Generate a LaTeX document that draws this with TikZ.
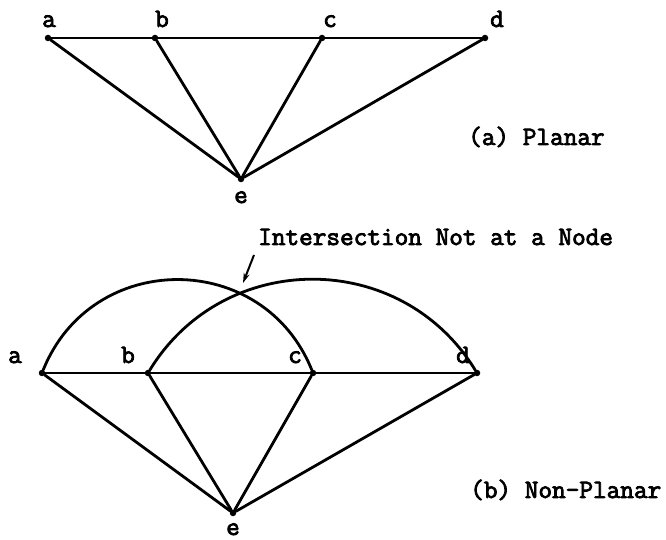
\documentclass[tikz,border=0pt]{standalone}
\usepackage{fontspec}
\newfontfamily\tw[FakeBold=3]{Latin Modern Mono}
\usetikzlibrary{arrows.meta}
\begin{document}
\begin{tikzpicture}[x=1pt,y=1pt,
  vtx/.style={circle,fill=black,inner sep=0pt,minimum size=6.5pt},
  edge/.style={line width=2.8pt,line cap=round},
  lbl/.style={anchor=base,inner sep=0pt,font=\tw\fontsize{26.5}{30}\selectfont},
  captxt/.style={anchor=base west,inner sep=0pt,font=\tw\fontsize{26.5}{30}\selectfont}]
\useasboundingbox (0,0) rectangle (666,540);
% (a) planar
\node[vtx] (a1) at (48,502) {};
\node[vtx] (b1) at (155,502) {};
\node[vtx] (c1) at (322,502) {};
\node[vtx] (d1) at (485,502) {};
\node[vtx] (e1) at (241,361) {};
\draw[edge] (a1) -- (b1) -- (c1) -- (d1);
\draw[edge] (a1) -- (e1);
\draw[edge] (b1) -- (e1);
\draw[edge] (c1) -- (e1);
\draw[edge] (d1) -- (e1);
\node[lbl] (la1) at (49,513) {a};
\node[lbl] (lb1) at (162,513) {b};
\node[lbl] (lc1) at (330,513) {c};
\node[lbl] (ld1) at (497,513) {d};
\node[lbl] (le1) at (241,337) {e};
\node[captxt] (t1) at (468,395) {(a) Planar};
% (b) non-planar
\node[vtx] (a2) at (42,167) {};
\node[vtx] (b2) at (148,167) {};
\node[vtx] (c2) at (313,167) {};
\node[vtx] (d2) at (477,167) {};
\node[vtx] (e2) at (233,27) {};
\draw[edge] (a2) -- (b2) -- (c2) -- (d2);
\draw[edge] (a2) -- (e2);
\draw[edge] (b2) -- (e2);
\draw[edge] (c2) -- (e2);
\draw[edge] (d2) -- (e2);
\draw[edge] (a2) to[out=68,in=112,looseness=1.24] (c2);
\draw[edge] (b2) to[out=58.5,in=121.5,looseness=1.12] (d2);
\node[lbl] (la2) at (15,177) {a};
\node[lbl] (lb2) at (128,177) {b};
\node[lbl] (lc2) at (295,177) {c};
\node[lbl] (ld2) at (463,177) {d};
\node[lbl] (le2) at (233,5) {e};
\node[captxt] (t2) at (470,42) {(b) Non-Planar};
\node[captxt] (t3) at (258,295) {Intersection Not at a Node};
\coordinate (p1) at (254,285);
\coordinate (p2) at (243,257);
\draw[line width=2pt,-{Stealth[length=10pt,width=6pt]}] (p1) -- (p2);
\end{tikzpicture}
\end{document}
